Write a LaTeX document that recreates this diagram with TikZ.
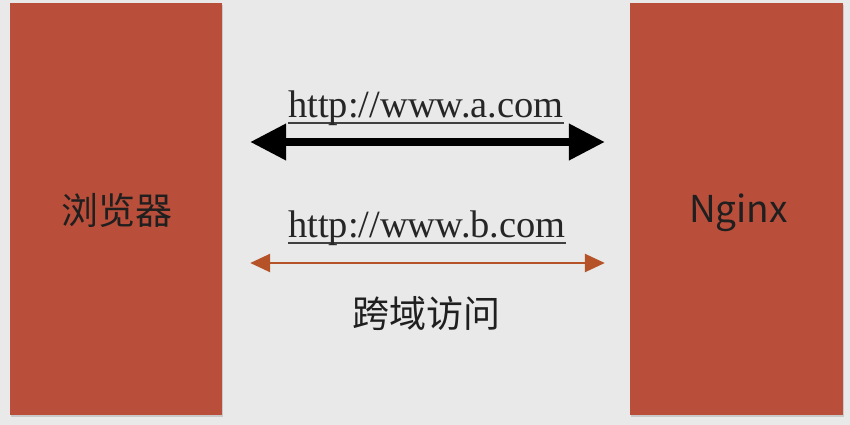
\documentclass[tikz,border=0pt]{standalone}
\usepackage{fontspec}
\setmainfont{Liberation Serif}
\newfontfamily\cjk{Noto Sans CJK SC}
\usetikzlibrary{arrows.meta,positioning,shadows}
\definecolor{brick}{RGB}{185,78,58}
\definecolor{slide}{RGB}{233,233,233}
\definecolor{rust}{RGB}{181,82,40}
% underline drawn a little lower and heavier than \underline
\newcommand\urlline[1]{\setbox0=\hbox{#1}\rlap{\raisebox{-6.6pt}{\color{black!75}\rule{\wd0}{2.3pt}}}\box0}
\tikzset{
    % side panels
    side/.style={
           fill=brick,
           minimum height=412pt,
           inner sep=0pt,
           drop shadow={opacity=0.3,shadow xshift=1pt,shadow yshift=-2pt}},
    % labels
    url/.style={text=black!85, inner sep=0pt, font=\fontsize{38.5}{44}\selectfont},
    hanzi/.style={text=black!88, inner sep=0pt, font=\cjk\fontsize{37}{42}\selectfont},
    % big arrow
    pil/.style={
           {Triangle[length=36pt,width=35pt]}-{Triangle[length=36pt,width=35pt]},
           line width=7.5pt,
           shorten <=28pt,
           shorten >=25pt},
    % small arrow
    pilrust/.style={
           {Triangle[length=20pt,width=18pt]}-{Triangle[length=20pt,width=18pt]},
           draw=rust,
           line width=2.5pt,
           shorten <=28pt,
           shorten >=25pt}
}
\begin{document}
\begin{tikzpicture}[x=1pt,y=-1pt]
\fill[slide] (0,0) rectangle (850,425);
\useasboundingbox (0,0) rectangle (850,425);

\node[side, minimum width=212pt] (browser) at (116,209) {};
\node[side, minimum width=213pt] (nginx) at (736.5,209) {};
\node[hanzi] (browsertext) at (116.5,210.5) {浏览器};
\node[hanzi, anchor=base] (nginxtext) at (738.5,222.3) {Nginx};

\coordinate (laneA) at (0,142);
\coordinate (laneB) at (0,263);

\node[url, anchor=base] (urlA) at (426,117.3) {\urlline{http://www.a.com}};
\draw[pil] (browser.east |- laneA) -- (nginx.west |- laneA);

\node[url, anchor=base] (urlB) at (427,237.3) {\urlline{http://www.b.com}};
\draw[pilrust] (browser.east |- laneB) -- (nginx.west |- laneB);

\node[hanzi] (cross) at (426,313.5) {跨域访问};
\end{tikzpicture}
\end{document}
